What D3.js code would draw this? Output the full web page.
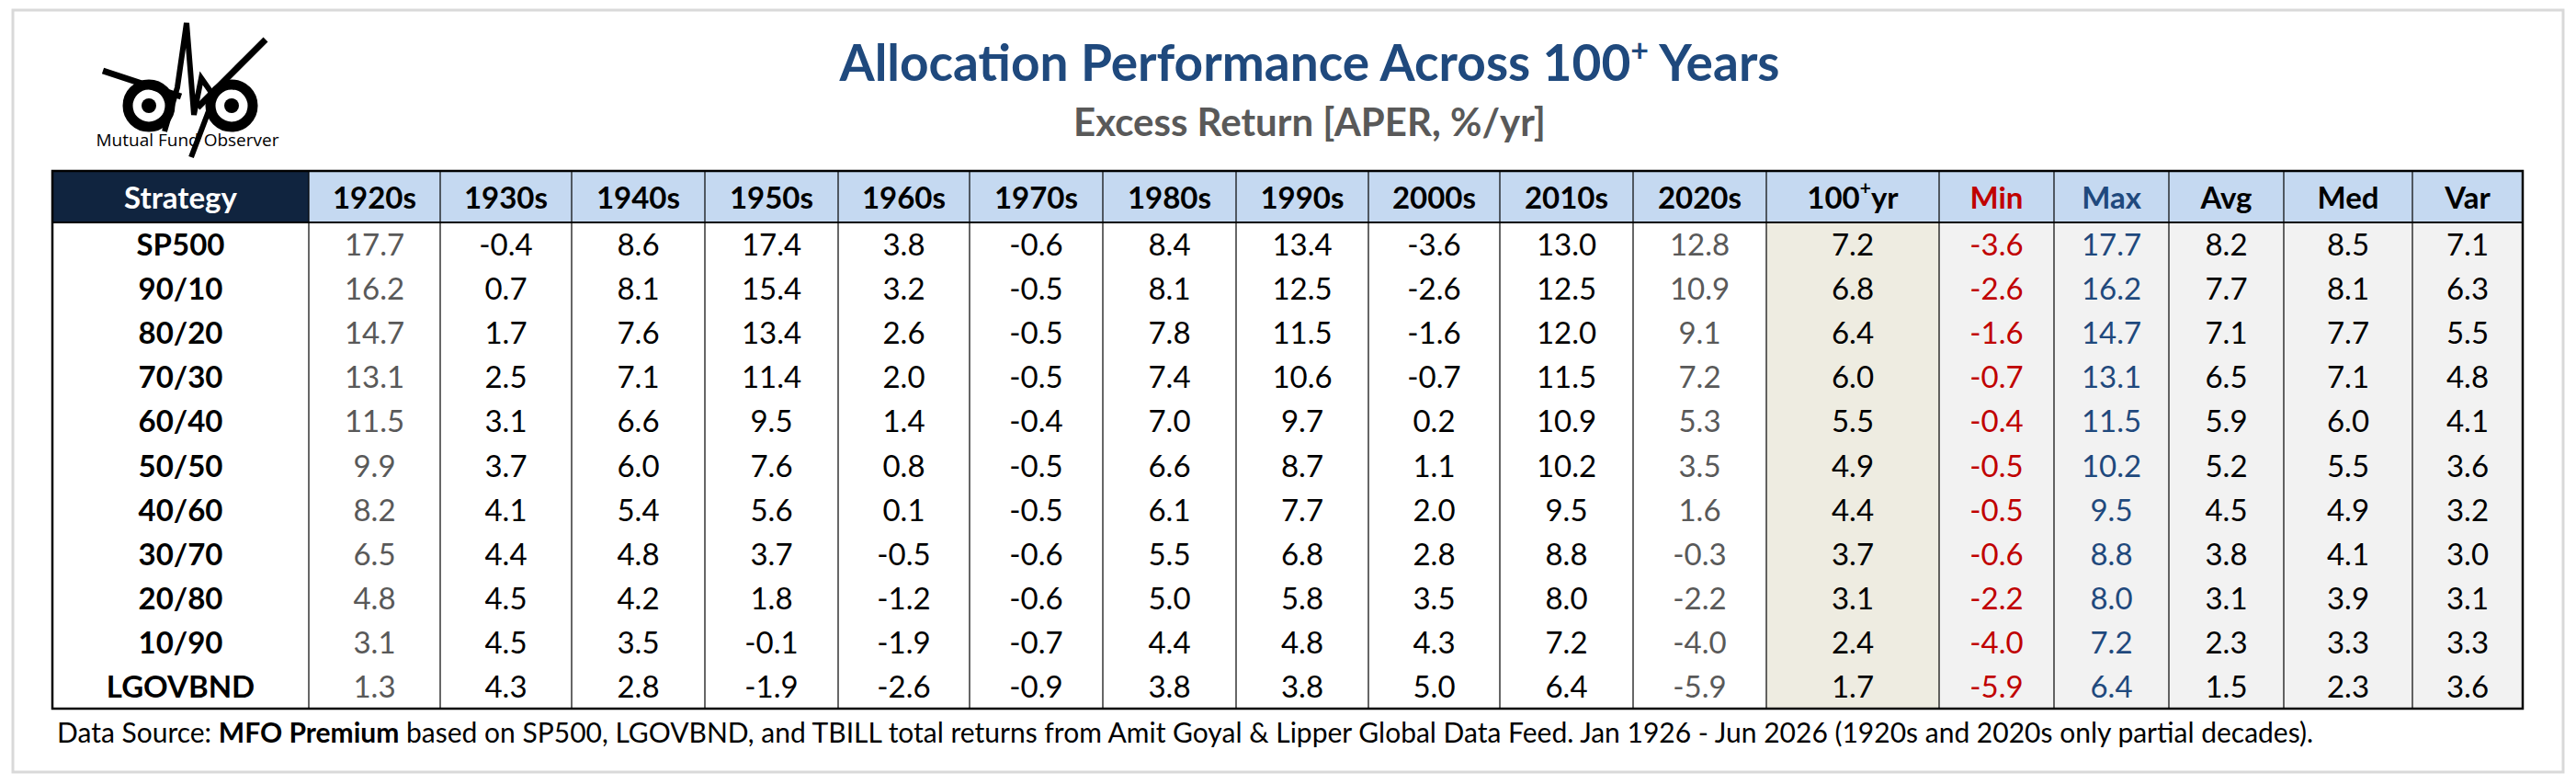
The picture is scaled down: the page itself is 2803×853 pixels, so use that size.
<!DOCTYPE html>
<html><head><meta charset="utf-8">
<script src="https://cdn.jsdelivr.net/npm/d3@7"></script>
<style>body{margin:0;background:#fff}svg{display:block}</style>
</head><body>
<svg id="chart" width="2803" height="853"></svg>
<script>
const strategies = ["SP500","90/10","80/20","70/30","60/40","50/50","40/60","30/70","20/80","10/90","LGOVBND"];
const decades = ["1920s","1930s","1940s","1950s","1960s","1970s","1980s","1990s","2000s","2010s","2020s"];
const decadeValues = [
  [17.7,-0.4,8.6,17.4,3.8,-0.6,8.4,13.4,-3.6,13.0,12.8],
  [16.2,0.7,8.1,15.4,3.2,-0.5,8.1,12.5,-2.6,12.5,10.9],
  [14.7,1.7,7.6,13.4,2.6,-0.5,7.8,11.5,-1.6,12.0,9.1],
  [13.1,2.5,7.1,11.4,2.0,-0.5,7.4,10.6,-0.7,11.5,7.2],
  [11.5,3.1,6.6,9.5,1.4,-0.4,7.0,9.7,0.2,10.9,5.3],
  [9.9,3.7,6.0,7.6,0.8,-0.5,6.6,8.7,1.1,10.2,3.5],
  [8.2,4.1,5.4,5.6,0.1,-0.5,6.1,7.7,2.0,9.5,1.6],
  [6.5,4.4,4.8,3.7,-0.5,-0.6,5.5,6.8,2.8,8.8,-0.3],
  [4.8,4.5,4.2,1.8,-1.2,-0.6,5.0,5.8,3.5,8.0,-2.2],
  [3.1,4.5,3.5,-0.1,-1.9,-0.7,4.4,4.8,4.3,7.2,-4.0],
  [1.3,4.3,2.8,-1.9,-2.6,-0.9,3.8,3.8,5.0,6.4,-5.9]
];
const centuryValues = [7.2,6.8,6.4,6.0,5.5,4.9,4.4,3.7,3.1,2.4,1.7];
const minValues = [-3.6,-2.6,-1.6,-0.7,-0.4,-0.5,-0.5,-0.6,-2.2,-4.0,-5.9];
const maxValues = [17.7,16.2,14.7,13.1,11.5,10.2,9.5,8.8,8.0,7.2,6.4];
const avgValues = [8.2,7.7,7.1,6.5,5.9,5.2,4.5,3.8,3.1,2.3,1.5];
const medValues = [8.5,8.1,7.7,7.1,6.0,5.5,4.9,4.1,3.9,3.3,2.3];
const varValues = [7.1,6.3,5.5,4.8,4.1,3.6,3.2,3.0,3.1,3.3,3.6];

const svg = d3.select("#chart");
const font = "Lato, 'Open Sans', sans-serif";

// outer frame
svg.append("rect").attr("x",14).attr("y",11).attr("width",2775).attr("height",829)
  .attr("fill","#fff").attr("stroke","#d9d9d9").attr("stroke-width",3);

// titles
const title = svg.append("text").attr("x",1425).attr("y",88).attr("text-anchor","middle")
  .attr("font-family",font).attr("font-weight","bold").attr("font-size",55).attr("fill","#1f497d");
title.append("tspan").text("Allocation Performance Across 100");
title.append("tspan").attr("dy",-21).attr("font-size",34).text("+");
title.append("tspan").attr("dy",21).text(" Years");
svg.append("text").attr("x",1425).attr("y",148).attr("text-anchor","middle")
  .attr("font-family",font).attr("font-weight","bold").attr("font-size",42).attr("fill","#595959")
  .text("Excess Return [APER, %/yr]");

// logo
const logo = svg.append("g").attr("transform","translate(107,25)");
[[55,90],[145,90]].forEach(([cx,cy]) => {
  logo.append("circle").attr("cx",cx).attr("cy",cy).attr("r",23).attr("fill","none").attr("stroke","#000").attr("stroke-width",11);
  logo.append("circle").attr("cx",cx).attr("cy",cy).attr("r",8).attr("fill","#000");
});
logo.append("path").attr("d","M5,52 L90,80 M108,92 L182,18").attr("stroke","#000").attr("stroke-width",7);
logo.append("path").attr("d","M72,118 L86,70 L96,0 L104,100 L112,60 L126,80 L101,146")
  .attr("fill","none").attr("stroke","#000").attr("stroke-width",6).attr("stroke-linejoin","miter");
logo.append("text").attr("x",97).attr("y",134).attr("text-anchor","middle").attr("font-family","'Open Sans',sans-serif")
  .attr("font-size",19).attr("fill","#000").text("Mutual Fund Observer");

// table geometry
const columns = ["Strategy", ...decades, "100yr", "Min", "Max", "Avg", "Med", "Var"];
const colWidths = [279,143,143,145,145,143,145,145,144,143,145,145,188,125,125,125,140,120];
const colX = d3.scaleOrdinal().domain(columns).range(d3.cumsum([0,...colWidths]).map(v => 57+v));
const colW = d3.scaleOrdinal().domain(columns).range(colWidths);
const tableLeft = 57, tableRight = 57 + d3.sum(colWidths);
const headerTop = 186, headerBottom = 242, tableBottom = 771;
const y = d3.scaleBand().domain(strategies).range([headerBottom, tableBottom]);

// header
const hdr = svg.append("g");
columns.forEach(c => {
  hdr.append("rect").attr("x",colX(c)).attr("y",headerTop).attr("width",colW(c)).attr("height",headerBottom-headerTop)
    .attr("fill", c === "Strategy" ? "#10243f" : "#c5d9f1");
});
// body backgrounds
svg.append("rect").attr("x",colX("100yr")).attr("y",headerBottom).attr("width",colW("100yr")).attr("height",tableBottom-headerBottom).attr("fill","#eeece1");
svg.append("rect").attr("x",colX("Min")).attr("y",headerBottom).attr("width",tableRight-colX("Min")).attr("height",tableBottom-headerBottom).attr("fill","#f2f2f2");

const headColor = c => c === "Strategy" ? "#fff" : c === "Min" ? "#c00000" : c === "Max" ? "#1f497d" : "#000";
columns.forEach(c => {
  const t = hdr.append("text").attr("x",colX(c)+colW(c)/2).attr("y",227).attr("text-anchor","middle")
    .attr("font-family",font).attr("font-weight","bold").attr("font-size",33).attr("fill",headColor(c));
  if (c === "100yr") { t.append("tspan").text("100"); t.append("tspan").attr("dy",-15).attr("font-size",21).text("+"); t.append("tspan").attr("dy",15).text("yr"); }
  else t.text(c);
});

// body values
const body = svg.append("g").attr("font-family",font).attr("font-size",33).attr("text-anchor","middle");
strategies.forEach((s,i) => {
  const cy = y(s) + y.bandwidth()/2 + 12;
  body.append("text").attr("x",colX("Strategy")+colW("Strategy")/2).attr("y",cy).attr("font-weight","bold").text(s);
  decades.forEach((d,j) => {
    body.append("text").attr("x",colX(d)+colW(d)/2).attr("y",cy)
      .attr("fill", (j===0||j===10) ? "#595959" : "#000").text(decadeValues[i][j].toFixed(1));
  });
  const extra = [["100yr",centuryValues,"#000"],["Min",minValues,"#c00000"],["Max",maxValues,"#1f497d"],["Avg",avgValues,"#000"],["Med",medValues,"#000"],["Var",varValues,"#000"]];
  extra.forEach(([c,arr,col]) => {
    body.append("text").attr("x",colX(c)+colW(c)/2).attr("y",cy).attr("fill",col).text(arr[i].toFixed(1));
  });
});

// grid lines
const grid = svg.append("g").attr("stroke","#000");
columns.slice(1).forEach(c => {
  grid.append("line").attr("x1",colX(c)).attr("x2",colX(c)).attr("y1",headerTop).attr("y2",tableBottom).attr("stroke-width",1.2);
});
grid.append("line").attr("x1",tableLeft).attr("x2",tableRight).attr("y1",headerBottom).attr("y2",headerBottom).attr("stroke-width",2);
grid.append("rect").attr("x",tableLeft).attr("y",headerTop).attr("width",tableRight-tableLeft).attr("height",tableBottom-headerTop)
  .attr("fill","none").attr("stroke-width",2.5);

// footer
const foot = svg.append("text").attr("x",62).attr("y",808).attr("font-family",font).attr("font-size",30).attr("fill","#000");
foot.append("tspan").text("Data Source: ");
foot.append("tspan").attr("font-weight","bold").text("MFO Premium");
foot.append("tspan").text(" based on SP500, LGOVBND, and TBILL total returns from Amit Goyal & Lipper Global Data Feed. Jan 1926 - Jun 2026 (1920s and 2020s only partial decades).");
</script>
</body></html>
